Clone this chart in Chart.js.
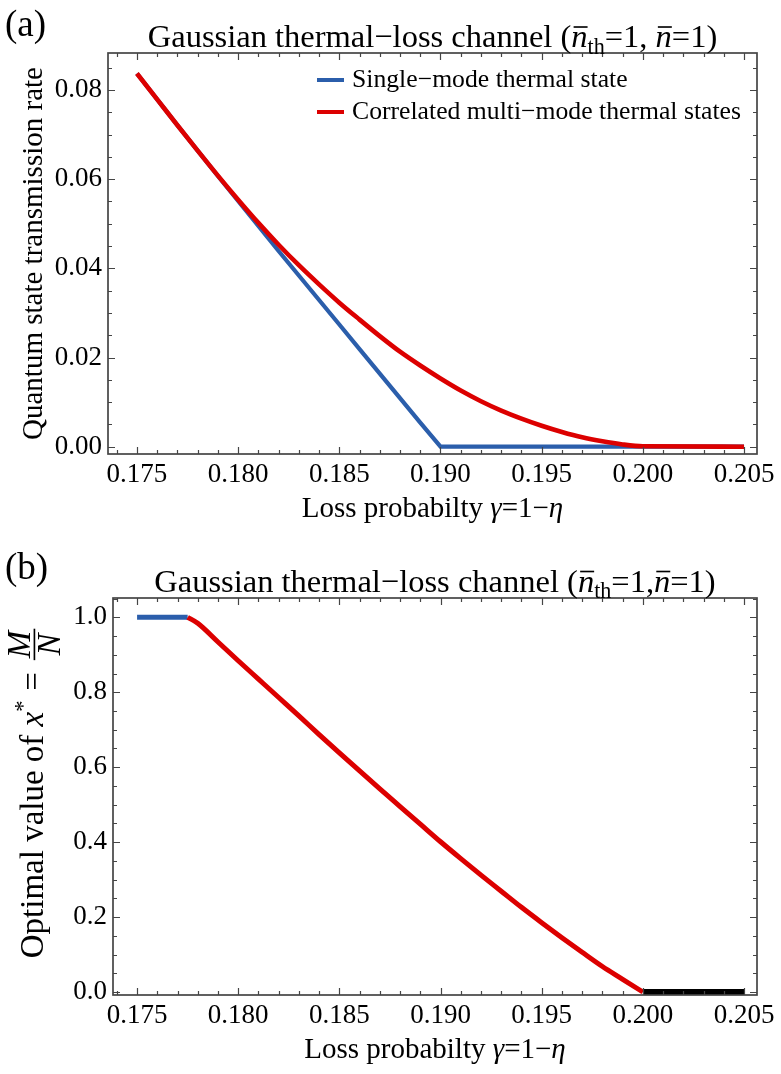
<!DOCTYPE html>
<html>
<head>
<meta charset="utf-8">
<script src="https://cdn.jsdelivr.net/npm/chart.js@4.4.1/dist/chart.umd.min.js"></script>
<style>
  html, body { margin: 0; padding: 0; background: #ffffff; }
  #wrap { position: relative; width: 781px; height: 1074px; }
  canvas { position: absolute; left: 0; }
</style>
</head>
<body>
<div id="wrap">
  <canvas id="chartA" width="781" height="541" style="top:0px;width:781px;height:541px"></canvas>
  <canvas id="chartB" width="781" height="533" style="top:541px;width:781px;height:533px"></canvas>
</div>
<script>
const FONT = '"Liberation Serif", "Times New Roman", serif';

// ---- panel (a): quantum state transmission rate vs loss probability ----
const gammaSingleA = [0.175, 0.176, 0.177, 0.178, 0.179, 0.180, 0.181, 0.182, 0.183, 0.184,
                      0.185, 0.186, 0.187, 0.188, 0.189, 0.190, 0.195, 0.200, 0.205];
const rateSingleA  = [0.0837, 0.0779, 0.0721, 0.0664, 0.0607, 0.0551, 0.0495, 0.0439, 0.0384, 0.0329,
                      0.0274, 0.0219, 0.0164, 0.0109, 0.0054, 0.0000, 0.0000, 0.0000, 0.0000];

const gammaCorrA = [0.175, 0.176, 0.177, 0.178, 0.179, 0.180, 0.181, 0.182, 0.183, 0.184,
                    0.185, 0.186, 0.187, 0.188, 0.189, 0.190, 0.191, 0.192, 0.193, 0.194,
                    0.195, 0.196, 0.197, 0.198, 0.199, 0.200, 0.205];
const rateCorrA  = [0.0837, 0.0779, 0.0721, 0.0664, 0.0608, 0.0554, 0.0502, 0.0453, 0.0407, 0.0364,
                    0.0323, 0.0285, 0.0248, 0.0213, 0.0182, 0.0153, 0.0126, 0.0102, 0.0081, 0.0063,
                    0.0047, 0.0033, 0.0021, 0.0012, 0.0005, 0.0001, 0.0000];

// ---- panel (b): optimal value of x* = M/N vs loss probability ----
const gammaSingleB = [0.175, 0.1775];
const xOptSingleB  = [1.0, 1.0];

const gammaCorrB = [0.1775, 0.178, 0.179, 0.180, 0.181, 0.182, 0.183, 0.184, 0.185, 0.186,
                    0.187, 0.188, 0.189, 0.190, 0.191, 0.192, 0.193, 0.194, 0.195, 0.196,
                    0.197, 0.198, 0.199, 0.200];
const xOptCorrB  = [1.000, 0.984, 0.934, 0.884, 0.835, 0.786, 0.737, 0.687, 0.638, 0.590,
                    0.542, 0.495, 0.448, 0.401, 0.356, 0.312, 0.269, 0.226, 0.185, 0.145,
                    0.106, 0.068, 0.034, 0.000];

const gammaZeroB = [0.200, 0.205];
const xOptZeroB  = [0.0, 0.0];

// ---- axis ticks ----
const xTickValues  = [0.175, 0.180, 0.185, 0.190, 0.195, 0.200, 0.205];
const yTickValuesA = [0.00, 0.02, 0.04, 0.06, 0.08];
const yTickValuesB = [0.0, 0.2, 0.4, 0.6, 0.8, 1.0];

const seriesNames = ['Single\u2212mode thermal state', 'Correlated multi\u2212mode thermal states'];
const COLORS = { single: '#2b5eab', corr: '#dc0000', zero: '#000000', frame: '#454545' };

const pts = (xs, ys) => xs.map((x, i) => ({ x, y: ys[i] }));

// ---------- rich text helpers (italic, sub/superscript, overbar, fraction, gaps) ----------
function runFont(r, size) {
  let s = size;
  if (r.sub || r.sup) s = size * 0.68;
  if (r.scale) s = size * r.scale;
  return { font: (r.i ? 'italic ' : '') + s.toFixed(2) + 'px ' + FONT, s };
}
function runWidths(ctx, runs, size) {
  return runs.map(r => {
    if (r.gap) return r.gap * size;
    if (r.frac) {
      const f = runFont({ i: true, scale: r.scale || 1 }, size);
      ctx.font = f.font;
      return Math.max(ctx.measureText(r.frac[0]).width, ctx.measureText(r.frac[1]).width) + size * 0.24;
    }
    ctx.font = runFont(r, size).font;
    return ctx.measureText(r.t).width;
  });
}
function drawRuns(ctx, runs, cx, by, size) {
  const ws = runWidths(ctx, runs, size);
  const total = ws.reduce((a, b) => a + b, 0);
  let x = cx - total / 2;
  ctx.textAlign = 'left';
  ctx.textBaseline = 'alphabetic';
  ctx.fillStyle = '#000';
  runs.forEach((r, i) => {
    const w = ws[i];
    if (r.gap) { x += w; return; }
    if (r.frac) {
      const f = runFont({ i: true, scale: r.scale || 1 }, size);
      ctx.font = f.font;
      const axisY = by - size * 0.26;
      ctx.fillRect(x + size * 0.06, axisY - size * 0.025, w - size * 0.12, size * 0.05);
      const wm = ctx.measureText(r.frac[0]).width, wn = ctx.measureText(r.frac[1]).width;
      ctx.fillText(r.frac[0], x + (w - wm) / 2, axisY - size * 0.12);
      ctx.fillText(r.frac[1], x + (w - wn) / 2, axisY + size * 0.1 + f.s * 0.66);
    } else {
      const f = runFont(r, size);
      ctx.font = f.font;
      const dy = r.sub ? size * 0.2 : (r.sup ? -size * 0.4 : 0);
      ctx.fillText(r.t, x, by + dy);
      if (r.bar) ctx.fillRect(x + w * 0.14, by - size * 0.64, w * 0.86, size * 0.05);
    }
    x += w;
  });
}

// ---------- minor tick positions between the labelled ticks ----------
function minorTicks(majors, divisions, min, max) {
  const step = (majors[1] - majors[0]) / divisions;
  const k0 = Math.ceil((min - majors[0]) / step - 1e-9);
  const k1 = Math.floor((max - majors[0]) / step + 1e-9);
  const out = [];
  for (let k = k0; k <= k1; k++) {
    if (((k % divisions) + divisions) % divisions !== 0) out.push(majors[0] + k * step);
  }
  return out;
}

// ---------- frame with inward ticks on all four sides ----------
const frameTicks = {
  id: 'frameTicks',
  afterDatasetsDraw(chart, args, o) {
    const { ctx, chartArea: a, scales: { x, y } } = chart;
    ctx.save();
    ctx.strokeStyle = COLORS.frame;
    ctx.lineWidth = 1.2;
    ctx.beginPath();
    const xt = o.xMajor.map(v => [v, 7]).concat(minorTicks(o.xMajor, o.xDiv, x.min, x.max).map(v => [v, 4]));
    xt.forEach(([v, len]) => {
      const p = Math.round(x.getPixelForValue(v)) + 0.5;
      ctx.moveTo(p, a.bottom); ctx.lineTo(p, a.bottom - len);
      ctx.moveTo(p, a.top);    ctx.lineTo(p, a.top + len);
    });
    const yt = o.yMajor.map(v => [v, 7]).concat(minorTicks(o.yMajor, o.yDiv, y.min, y.max).map(v => [v, 4]));
    yt.forEach(([v, len]) => {
      const p = Math.round(y.getPixelForValue(v)) + 0.5;
      ctx.moveTo(a.left, p);  ctx.lineTo(a.left + len, p);
      ctx.moveTo(a.right, p); ctx.lineTo(a.right - len, p);
    });
    ctx.stroke();
    ctx.lineWidth = 1.7;
    ctx.strokeRect(a.left, a.top, a.right - a.left, a.bottom - a.top);
    ctx.restore();
  }
};

// ---------- panel letter, title, axis titles and in-plot legend ----------
const annotations = {
  id: 'annotations',
  afterDraw(chart, args, o) {
    const { ctx, chartArea: a } = chart;
    const cx = (a.left + a.right) / 2;
    ctx.save();
    ctx.fillStyle = '#000';
    ctx.textAlign = 'left';
    ctx.textBaseline = 'alphabetic';
    ctx.font = '37px ' + FONT;
    ctx.fillText(o.panel, o.panelX, o.panelY);

    drawRuns(ctx, o.title, cx, o.titleY, o.titleSize);
    drawRuns(ctx, o.xTitle, cx, o.xTitleY, o.axisSize);

    ctx.save();
    ctx.translate(o.yTitleX, (a.top + a.bottom) / 2 + (o.yTitleShift || 0));
    ctx.rotate(-Math.PI / 2);
    drawRuns(ctx, o.yTitle, 0, 0, o.yTitleSize || o.axisSize);
    ctx.restore();

    if (o.legend) {
      const L = o.legend;
      L.items.forEach((idx, row) => {
        const ds = chart.data.datasets[idx];
        const yy = L.y + row * L.rowGap;
        ctx.strokeStyle = ds.borderColor;
        ctx.lineWidth = 4;
        ctx.beginPath();
        ctx.moveTo(L.x0, yy); ctx.lineTo(L.x1, yy);
        ctx.stroke();
        ctx.fillStyle = '#000';
        ctx.font = L.size + 'px ' + FONT;
        ctx.textBaseline = 'middle';
        ctx.fillText(ds.label, L.textX, yy);
      });
    }
    ctx.restore();
  }
};

const titleRuns = (sep) => [
  { t: 'Gaussian thermal\u2212loss channel (' },
  { t: 'n', i: true, bar: true }, { t: 'th', sub: true },
  { t: '=1,' + sep },
  { t: 'n', i: true, bar: true },
  { t: '=1)' }
];
const xTitleRuns = [
  { t: 'Loss probabilty ' }, { t: '\u03B3', i: true }, { t: '=1\u2212' }, { t: '\u03B7', i: true }
];

function axisCommon(min, max, tickValues, digits, fitSize, isX) {
  return {
    type: 'linear',
    min, max,
    afterBuildTicks: s => { s.ticks = tickValues.map(v => ({ value: v })); },
    afterFit: s => { if (isX) s.height = fitSize; else s.width = fitSize; },
    grid: { display: false, drawTicks: false },
    border: { display: false },
    ticks: {
      autoSkip: false, maxRotation: 0, minRotation: 0,
      padding: isX ? 5 : 6,
      color: '#000',
      font: { family: FONT, size: 27 },
      callback: v => Number(v).toFixed(digits)
    }
  };
}

Chart.defaults.font.family = FONT;

// ---------- chart (a) ----------
new Chart(document.getElementById('chartA'), {
  type: 'line',
  data: {
    datasets: [
      { label: seriesNames[0], data: pts(gammaSingleA, rateSingleA), borderColor: COLORS.single,
        borderWidth: 4.2, pointRadius: 0, tension: 0, order: 1 },
      { label: seriesNames[1], data: pts(gammaCorrA, rateCorrA), borderColor: COLORS.corr,
        borderWidth: 4.6, pointRadius: 0, cubicInterpolationMode: 'monotone', order: 0 }
    ]
  },
  options: {
    responsive: false, animation: false, devicePixelRatio: 1,
    layout: { padding: { left: 0, right: 24, top: 53, bottom: 0 } },
    scales: {
      x: axisCommon(0.17357, 0.20564, xTickValues, 3, 87, true),
      y: axisCommon(-0.00164, 0.0883, yTickValuesA, 2, 108, false)
    },
    plugins: {
      legend: { display: false },
      tooltip: { enabled: false },
      frameTicks: { xMajor: xTickValues, xDiv: 5, yMajor: yTickValuesA, yDiv: 4 },
      annotations: {
        panel: '(a)', panelX: 5, panelY: 36,
        title: titleRuns(' '), titleY: 47, titleSize: 32.5,
        xTitle: xTitleRuns, xTitleY: 517, axisSize: 29,
        yTitle: [{ t: 'Quantum state transmission rate' }], yTitleX: 42,
        legend: { items: [0, 1], x0: 317, x1: 344, textX: 352, y: 80, rowGap: 32, size: 25.7 }
      }
    }
  },
  plugins: [frameTicks, annotations]
});

// ---------- chart (b) ----------
new Chart(document.getElementById('chartB'), {
  type: 'line',
  data: {
    datasets: [
      { label: 'Single\u2212mode optimum', data: pts(gammaSingleB, xOptSingleB), borderColor: COLORS.single,
        borderWidth: 5, pointRadius: 0, order: 2 },
      { label: 'Correlated optimum', data: pts(gammaCorrB, xOptCorrB), borderColor: COLORS.corr,
        borderWidth: 5, pointRadius: 0, cubicInterpolationMode: 'monotone', order: 1 },
      { label: 'No transmission', data: pts(gammaZeroB, xOptZeroB), borderColor: COLORS.zero,
        borderWidth: 6, pointRadius: 0, order: 0 }
    ]
  },
  options: {
    responsive: false, animation: false, devicePixelRatio: 1,
    layout: { padding: { left: 0, right: 24, top: 57, bottom: 0 } },
    scales: {
      x: axisCommon(0.17381, 0.20564, xTickValues, 3, 79, true),
      y: axisCommon(-0.008, 1.0515, yTickValuesB, 1, 113, false)
    },
    plugins: {
      legend: { display: false },
      tooltip: { enabled: false },
      frameTicks: { xMajor: xTickValues, xDiv: 5, yMajor: yTickValuesB, yDiv: 4 },
      annotations: {
        panel: '(b)', panelX: 5, panelY: 38,
        title: titleRuns(''), titleY: 50.5, titleSize: 32.5,
        xTitle: xTitleRuns, xTitleY: 517, axisSize: 29,
        yTitle: [
          { t: 'Optimal value of ' }, { t: 'x', i: true }, { t: '*', sup: true },
          { gap: 0.3 }, { t: '=' }, { gap: 0.3 }, { frac: ['M', 'N'], scale: 1.0 }
        ],
        yTitleSize: 33, yTitleX: 43, yTitleShift: -4
      }
    }
  },
  plugins: [frameTicks, annotations]
});
</script>
</body>
</html>
